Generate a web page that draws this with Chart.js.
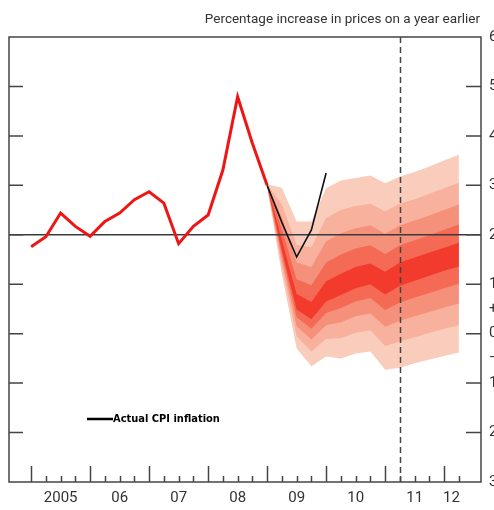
<!DOCTYPE html>
<html>
<head>
<meta charset="utf-8">
<script src="https://cdn.jsdelivr.net/npm/chart.js@4.4.1/dist/chart.umd.min.js"></script>
<style>
    html, body { margin: 0; padding: 0; background: #fff; overflow: hidden; }
</style>
</head>
<body>
<canvas id="Grafico" width="494" height="510"></canvas>
<script>
// CPI inflation, % change on a year earlier (quarterly)
var histYears = [2005, 2005.25, 2005.5, 2005.75, 2006, 2006.25, 2006.5, 2006.75, 2007, 2007.25, 2007.5, 2007.75, 2008, 2008.25, 2008.5, 2008.75, 2009];
var histCpi = [1.76, 1.96, 2.44, 2.17, 1.97, 2.27, 2.44, 2.71, 2.87, 2.64, 1.82, 2.17, 2.40, 3.31, 4.79, 3.85, 3.0];

var actualYears = [2009, 2009.25, 2009.5, 2009.75, 2010];
var actualCpi = [3.0, 2.25, 1.55, 2.1, 3.25];

var targetYears = [2004.625, 2012.625];
var targetCpi = [2, 2];

// fan chart band edges (5th .. 95th percentile)
var fanYears = [2009, 2009.25, 2009.5, 2009.75, 2010, 2010.25, 2010.5, 2010.75, 2011, 2011.25, 2011.5, 2011.75, 2012, 2012.25];
var fan05 = [2.96, 1.2, -0.3, -0.66, -0.46, -0.5, -0.4, -0.36, -0.73, -0.69, -0.6, -0.52, -0.45, -0.38];
var fan15 = [2.97, 1.35, -0.05, -0.36, -0.11, -0.09, 0.02, 0.07, -0.25, -0.16, -0.07, 0.02, 0.1, 0.17];
var fan25 = [2.98, 1.48, 0.15, -0.12, 0.17, 0.23, 0.35, 0.41, 0.14, 0.26, 0.35, 0.44, 0.53, 0.61];
var fan35 = [2.99, 1.59, 0.33, 0.10, 0.42, 0.52, 0.65, 0.72, 0.48, 0.63, 0.73, 0.82, 0.92, 1.01];
var fan45 = [3.0, 1.68, 0.49, 0.29, 0.65, 0.78, 0.92, 1.0, 0.79, 0.97, 1.07, 1.17, 1.27, 1.36];
var fan55 = [3.0, 1.89, 0.8, 0.64, 1.06, 1.21, 1.35, 1.42, 1.25, 1.44, 1.54, 1.64, 1.74, 1.84];
var fan65 = [3.0, 2.11, 1.1, 0.98, 1.44, 1.6, 1.72, 1.79, 1.61, 1.79, 1.89, 1.99, 2.1, 2.21];
var fan75 = [3.0, 2.35, 1.44, 1.35, 1.87, 2.03, 2.13, 2.19, 2.02, 2.19, 2.29, 2.39, 2.5, 2.61];
var fan85 = [3.01, 2.61, 1.8, 1.75, 2.34, 2.5, 2.58, 2.63, 2.47, 2.63, 2.72, 2.83, 2.94, 3.05];
var fan95 = [3.02, 2.95, 2.27, 2.27, 2.94, 3.1, 3.15, 3.2, 3.04, 3.18, 3.27, 3.38, 3.5, 3.62];

var yearTicks = [2005.5, 2006.5, 2007.5, 2008.5, 2009.5, 2010.5, 2011.5, 2012.125];
var yearLabels = ['2005', '06', '07', '08', '09', '10', '11', '12'];
var yTicks = [6, 5, 4, 3, 2, 1, 0.5, 0, -0.5, -1, -2, -3];
var yLabels = ['6', '5', '4', '3', '2', '1', '+', '0', '\u2013', '1', '2', '3'];
var horizonYear = 2011.25;

var bandColors = ['#f9ccbc', '#f7b19d', '#f5917b', '#f46a55', '#f23a2d'];

function pts(xs, ys) {
    return xs.map(function (x, i) { return { x: x, y: ys[i] }; });
}

var fanEdges = [fan05, fan15, fan25, fan35, fan45, fan55, fan65, fan75, fan85, fan95];

var datasets = [
    { label: 'Actual CPI inflation', data: pts(actualYears, actualCpi), borderColor: '#111', borderWidth: 1.6, order: 0 },
    { label: 'CPI', data: pts(histYears, histCpi), borderColor: '#ee1515', borderWidth: 3, order: 0 },
    { label: 'Target', data: pts(targetYears, targetCpi), borderColor: '#3a3a3a', borderWidth: 1.5, order: 1 }
];

// lower edges first (index 3..7), upper edges fill down to their mirror
for (var i = 0; i < fanEdges.length; i++) {
    var ds = { data: pts(fanYears, fanEdges[i]), borderWidth: 0, borderColor: 'rgba(0,0,0,0)', fill: false, order: 20 };
    if (i >= 5) {
        var k = 9 - i;
        ds.fill = 3 + k;
        ds.backgroundColor = bandColors[k];
        ds.order = 10 + (4 - k);
    }
    datasets.push(ds);
}

var extras = {
    id: 'extras',
    afterDatasetsDraw: function (chart) {
        var ctx = chart.ctx;
        var a = chart.chartArea;
        var xs = chart.scales.x;
        var ys = chart.scales.y;
        ctx.save();

        // forecast horizon dashed line
        var hx = Math.round(xs.getPixelForValue(horizonYear)) + 0.5;
        ctx.strokeStyle = '#444';
        ctx.lineWidth = 1.5;
        ctx.setLineDash([6, 4]);
        ctx.beginPath();
        ctx.moveTo(hx, a.top);
        ctx.lineTo(hx, a.bottom);
        ctx.stroke();
        ctx.setLineDash([]);

        // frame
        ctx.strokeStyle = '#444';
        ctx.lineWidth = 1.5;
        ctx.strokeRect(a.left, a.top, a.right - a.left, a.bottom - a.top);

        // inward ticks left and right
        for (var v = -2; v <= 5; v++) {
            var y = ys.getPixelForValue(v);
            ctx.beginPath();
            ctx.moveTo(a.left, y);
            ctx.lineTo(a.left + 14, y);
            ctx.moveTo(a.right, y);
            ctx.lineTo(a.right - 15, y);
            ctx.stroke();
        }

        // quarter ticks on the bottom
        for (var q = 2005; q <= 2012.3; q += 0.25) {
            var x = Math.round(xs.getPixelForValue(q)) + 0.5;
            var len = (Math.abs(q - Math.round(q)) < 0.01) ? 16 : 6;
            ctx.beginPath();
            ctx.moveTo(x, a.bottom);
            ctx.lineTo(x, a.bottom - len);
            ctx.stroke();
        }

        // legend
        ctx.strokeStyle = '#000';
        ctx.lineWidth = 2.5;
        ctx.beginPath();
        ctx.moveTo(a.left + 78, a.top + 382);
        ctx.lineTo(a.left + 104, a.top + 382);
        ctx.stroke();
        ctx.fillStyle = '#000';
        ctx.font = 'bold 11px "DejaVu Sans Condensed", "Liberation Sans Narrow", sans-serif';
        ctx.textAlign = 'left';
        ctx.textBaseline = 'middle';
        ctx.fillText('Actual CPI inflation', a.left + 104, a.top + 382);

        // title
        ctx.fillStyle = '#333';
        ctx.font = '13.5px Roboto, sans-serif';
        ctx.textAlign = 'right';
        ctx.fillText('Percentage increase in prices on a year earlier', a.right - 1, 20);
        ctx.restore();
    }
};

var chart = new Chart(document.getElementById('Grafico').getContext('2d'), {
    type: 'line',
    data: { datasets: datasets },
    options: {
        responsive: false,
        animation: false,
        layout: { padding: { left: 9, top: 37, right: 0, bottom: 0 } },
        elements: { point: { radius: 0 }, line: { tension: 0 } },
        plugins: { legend: { display: false }, tooltip: { enabled: false }, filler: { propagate: false } },
        scales: {
            x: {
                type: 'linear',
                min: 2004.625,
                max: 2012.625,
                grid: { display: false, drawTicks: false },
                border: { display: false },
                afterBuildTicks: function (axis) {
                    axis.ticks = yearTicks.map(function (v) { return { value: v }; });
                },
                afterFit: function (axis) { axis.height = 28; },
                ticks: {
                    autoSkip: false,
                    maxRotation: 0,
                    padding: 7,
                    color: '#333',
                    font: { family: 'Roboto', size: 15 },
                    callback: function (value, index) { return yearLabels[index]; }
                }
            },
            y: {
                type: 'linear',
                position: 'right',
                min: -3,
                max: 6,
                grid: { display: false, drawTicks: false },
                border: { display: false },
                afterBuildTicks: function (axis) {
                    axis.ticks = yTicks.map(function (v) { return { value: v }; });
                },
                afterFit: function (axis) { axis.width = 13; },
                ticks: {
                    autoSkip: false,
                    padding: 8,
                    color: '#333',
                    font: { family: 'Roboto', size: 15 },
                    callback: function (value, index) { return yLabels[index]; }
                }
            }
        }
    },
    plugins: [extras]
});
</script>
</body>
</html>
